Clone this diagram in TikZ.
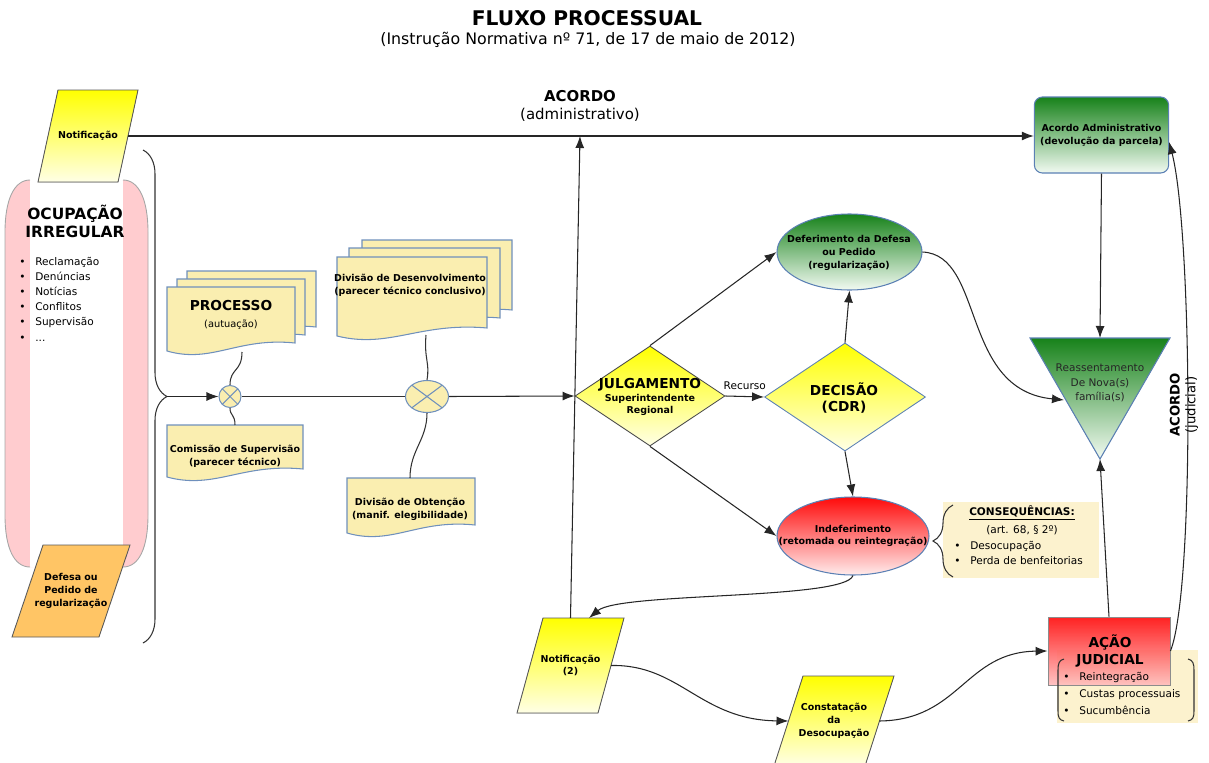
\documentclass[tikz,border=0pt]{standalone}
\usepackage{fontspec}
\setmainfont{DejaVu Sans}
\usetikzlibrary{arrows.meta,shapes.geometric,decorations.pathreplacing,positioning}

\definecolor{notifTop}{HTML}{FFFF00}
\definecolor{notifBot}{HTML}{FFFFE6}
\definecolor{docFill}{HTML}{FAEEB0}
\definecolor{docLine}{HTML}{6F90BC}
\definecolor{ocupPink}{HTML}{FFCCCF}
\definecolor{defOrange}{HTML}{FFC565}
\definecolor{greenTop}{HTML}{17821A}
\definecolor{greenBot}{HTML}{F2FAF2}
\definecolor{redTop}{HTML}{FF0A0A}
\definecolor{redBot}{HTML}{FFECEC}
\definecolor{noteFill}{HTML}{FCF2CE}
\definecolor{shapeLine}{HTML}{5B80B4}

\tikzset{
  flow/.style={-{Latex[length=2.4mm,width=1.8mm]}, line width=0.6pt, draw=black!85},
  link/.style={line width=0.6pt, draw=black!80},
  docbox/.style={fill=docFill, draw=docLine, line width=0.6pt},
  xjoin/.style={draw=docLine, fill=docFill, line width=0.6pt, inner sep=0pt,
    path picture={\draw[docLine, line width=0.6pt]
      (path picture bounding box.north west) -- (path picture bounding box.south east)
      (path picture bounding box.north east) -- (path picture bounding box.south west);}},
  lblsmall/.style={font=\fontsize{5.4}{7.3}\selectfont\bfseries, align=center},
  lblbig/.style={font=\fontsize{7.8}{9.4}\selectfont\bfseries, align=center},
  lbllist/.style={font=\fontsize{6}{8.6}\selectfont, align=left, inner sep=0pt},
}

\providecommand{\wavydoc}[4]{%
  \filldraw[docbox] (#1,#2) -- (#3,#2) -- (#3,{#4-12})
    .. controls ({#1+0.55*(#3-#1)},{#4-18}) and ({#1+0.35*(#3-#1)},{#4+9}) .. (#1,{#4-4}) -- cycle;
}
% name, cx, cy, half width, half height, slant, fill, text
\providecommand{\slantpaper}[8]{%
  \filldraw[#7, draw=black!65, line width=0.5pt]
    ({#2-#4},{#3+#5}) -- ({#2-#4+#6},{#3-#5}) -- ({#2+#4},{#3-#5}) -- ({#2+#4-#6},{#3+#5}) -- cycle;
  \node[lblsmall] (#1) at (#2,#3) {#8};
  \coordinate (#1-n) at (#2,{#3-#5});
  \coordinate (#1-e) at ({#2+#4-#6/2},#3);
  \coordinate (#1-w) at ({#2-#4+#6/2},#3);
}
\providecommand{\itm}[1]{\makebox[3.2mm][l]{\textbullet}#1}

\begin{document}
\begin{tikzpicture}[x=0.2mm, y=-0.2mm, font=\fontsize{6}{7.5}\selectfont]

  \useasboundingbox (0,0) rectangle (1209,763);

  % --------------------------------------------------------------------------
  % Title
  % --------------------------------------------------------------------------
  \node[font=\fontsize{11.5}{14}\selectfont\bfseries] (title) at (587,18) {FLUXO PROCESSUAL};
  \node[font=\fontsize{9}{11}\selectfont] (subtitle) at (588,40)
    {(Instrução Normativa nº 71, de 17 de maio de 2012)};

  % --------------------------------------------------------------------------
  % LEFT: ocupação irregular, notificação, defesa
  % --------------------------------------------------------------------------
  \fill[ocupPink] (30,180) .. controls (14,180) and (5,200) .. (5,232) -- (5,515)
    .. controls (5,548) and (14,567) .. (30,567) -- (123,567)
    .. controls (139,567) and (148,548) .. (148,515) -- (148,232)
    .. controls (148,200) and (139,180) .. (123,180) -- cycle;
  \fill[white] (30,180) rectangle (123,567);
  \draw[black!35, line width=0.5pt] (30,180) .. controls (14,180) and (5,200) .. (5,232)
    -- (5,515) .. controls (5,548) and (14,567) .. (30,567);
  \draw[black!35, line width=0.5pt] (123,180) .. controls (139,180) and (148,200) .. (148,232)
    -- (148,515) .. controls (148,548) and (139,567) .. (123,567);

  \node[font=\fontsize{8.8}{10.2}\selectfont\bfseries, align=center] (ocup) at (75,221)
    {OCUPAÇÃO\\IRREGULAR};
  \node[lbllist, anchor=north west] (ocuplist) at (19,257)
    {\itm{Reclamação}\\\itm{Denúncias}\\\itm{Notícias}\\\itm{Conflitos}\\\itm{Supervisão}\\\itm{...}};

  \slantpaper{notif}{88}{136}{50}{46}{20}{top color=notifTop, bottom color=notifBot}{Notificação}
  \slantpaper{defesa}{71}{591}{59}{46}{31}{fill=defOrange}{Defesa ou\\Pedido de\\regularização}

  \draw[link, decorate, decoration={brace, amplitude=4.8mm}] (143,150) -- (143,643);
  \coordinate (brtip) at (167,396.5);

  % --------------------------------------------------------------------------
  % Documents along the main line
  % --------------------------------------------------------------------------
  \wavydoc{187}{271}{316}{339}
  \wavydoc{177}{279}{305}{347}
  \wavydoc{167}{287}{295}{355}
  \node[font=\fontsize{7.8}{9.6}\selectfont\bfseries, align=center] (proc) at (231,315)
    {PROCESSO\\{\fontsize{5.6}{7}\selectfont\mdseries(autuação)}};
  \coordinate (procfoot) at (242,352);

  \wavydoc{167}{425}{303}{481}
  \node[lblsmall] (comis) at (235,456) {Comissão de Supervisão\\(parecer técnico)};
  \coordinate (comistop) at (235,425);

  \wavydoc{362}{240}{512}{322}
  \wavydoc{349}{248}{500}{330}
  \wavydoc{337}{257}{487}{340}
  \node[lblsmall] (desenv) at (410,285) {Divisão de Desenvolvimento\\(parecer técnico conclusivo)};
  \coordinate (desenvfoot) at (426,335);

  \wavydoc{347}{478}{475}{537}
  \node[lblsmall] (obt) at (410,509) {Divisão de Obtenção\\(manif. elegibilidade)};
  \coordinate (obttop) at (410,478);

  \node[xjoin, circle, minimum size=4.4mm] (circ1) at (230,396.5) {};
  \node[xjoin, ellipse, minimum width=8.6mm, minimum height=6.4mm] (circ2) at (427,396.5) {};

  % --------------------------------------------------------------------------
  % Judgement and decision
  % --------------------------------------------------------------------------
  \node[diamond, minimum width=30mm, minimum height=20mm, inner sep=0pt,
    top color=notifTop, bottom color=notifBot, draw=black!70, line width=0.5pt] (julg) at (650,396) {};
  \node[lblsmall] (julgtext) at (650,397)
    {{\fontsize{7.8}{9}\selectfont JULGAMENTO}\\Superintendente\\Regional};

  \node[diamond, minimum width=32.2mm, minimum height=21.6mm, inner sep=0pt,
    top color=notifTop, bottom color=notifBot, draw=shapeLine, line width=0.5pt] (dec) at (845,397) {};
  \node[lblbig] (dectext) at (844,398) {DECISÃO\\(CDR)};

  \node[ellipse, minimum width=29mm, minimum height=15.2mm, inner sep=0pt,
    top color=greenTop, bottom color=greenBot, draw=shapeLine, line width=0.6pt] (defer) at (849.5,252) {};
  \node[lblsmall] (defertext) at (849,253) {Deferimento da Defesa\\ou Pedido\\(regularização)};

  \node[ellipse, minimum width=30.4mm, minimum height=15.6mm, inner sep=0pt,
    top color=redTop, bottom color=redBot, draw=shapeLine, line width=0.6pt] (indef) at (853,536) {};
  \node[lblsmall] (indeftext) at (853,536) {Indeferimento\\(retomada ou reintegração)};

  % consequences note
  \fill[noteFill] (943,502) rectangle (1099,578);
  \draw[link, decorate, decoration={brace, amplitude=4mm}] (953,577) -- (953,505);
  \node[font=\fontsize{6}{7}\selectfont\bfseries] (conseqtitle) at (1022,513) {\underline{CONSEQUÊNCIAS:}};
  \node[font=\fontsize{6}{7}\selectfont] (conseqart) at (1022,530) {(art. 68, § 2º)};
  \node[lbllist, anchor=north west] (conseqlist) at (954,541) {\itm{Desocupação}\\\itm{Perda de benfeitorias}};

  % --------------------------------------------------------------------------
  % Bottom: notificação (2), constatação, ação judicial
  % --------------------------------------------------------------------------
  \slantpaper{notif2}{570.5}{665.5}{53.5}{47.5}{26}{top color=notifTop, bottom color=notifBot}{Notificação\\(2)}
  \coordinate (notif2in) at (589,618);

  \slantpaper{const}{834}{721}{60}{45}{29}{top color=notifTop, bottom color=notifBot}{Constatação\\da\\Desocupação}

  \fill[noteFill] (1057,650) rectangle (1198,723);
  \node[rectangle, minimum width=24.4mm, minimum height=13.6mm, inner sep=0pt,
    top color=redTop, bottom color=redBot!80!red, draw=black!45, line width=0.5pt,
    fill opacity=0.9] (acao) at (1109,651) {};
  \node[lblbig] (acaotext) at (1110,651) {AÇÃO\\JUDICIAL};
  \draw[link] (1064,659) .. controls (1059,660) and (1058,664) .. (1058,670) -- (1058,711)
    .. controls (1058,717) and (1059,720) .. (1064,721);
  \draw[link] (1188,659) .. controls (1193,660) and (1194,664) .. (1194,670) -- (1194,711)
    .. controls (1194,717) and (1193,720) .. (1188,721);
  \node[font=\fontsize{6}{9.6}\selectfont, align=left, inner sep=0pt, anchor=north west] (acaolist) at (1063,672)
    {\itm{Reintegração}\\\itm{Custas processuais}\\\itm{Sucumbência}};

  % --------------------------------------------------------------------------
  % RIGHT: acordo administrativo, reassentamento
  % --------------------------------------------------------------------------
  \node[rectangle, rounded corners=1.6mm, minimum width=26.2mm, minimum height=15.2mm,
    top color=greenTop, bottom color=greenBot, draw=shapeLine, line width=0.6pt, lblsmall] (acadm) at (1101.5,135)
    {Acordo Administrativo\\(devolução da parcela)};

  \filldraw[top color=greenTop, bottom color=greenBot, draw=shapeLine, line width=0.6pt]
    (1030,338) -- (1170,338) -- (1100,459) -- cycle;
  \coordinate (reassN) at (1100,338);
  \coordinate (reassS) at (1100,459);
  \coordinate (reassW) at (1064,400);
  \node[font=\fontsize{6}{8.3}\selectfont, align=center, text=black!85] (reass) at (1100,383)
    {Reassentamento\\De Nova(s)\\família(s)};

  % --------------------------------------------------------------------------
  % Connectors
  % --------------------------------------------------------------------------
  \draw[flow] (notif-e) -- (notif-e -| acadm.west);
  \node[font=\fontsize{8.5}{9.8}\selectfont, align=center] (acordoadm) at (580,106)
    {\textbf{ACORDO}\\(administrativo)};
  \coordinate (acjoin) at (580,136);
  \draw[flow] (notif2-n) -- (acjoin);

  \draw[flow] (brtip) -- (circ1.west);
  \draw[link] (circ1.east) -- (circ2.west);
  \draw[flow] (circ2.east) -- (julg.west);
  \draw[link] (procfoot) .. controls (242,372) and (230,368) .. (circ1.north);
  \draw[link] (circ1.south) .. controls (230,416) and (235,414) .. (comistop);
  \draw[link] (desenvfoot) .. controls (424,360) and (430,362) .. (circ2.north);
  \draw[link] (circ2.south) .. controls (427,440) and (410,450) .. (obttop);

  \draw[flow] (julg.east) -- node[above, font=\fontsize{6}{7}\selectfont] (recurso) {Recurso} (dec.west);
  \draw[flow] (julg.north) -- (defer.west);
  \draw[flow] (julg.south) -- (indef.west);
  \draw[flow] (dec.north) -- (defer.south);
  \draw[flow] (dec.south) -- (indef.north);
  \draw[flow] (defer.east) .. controls (985,255) and (960,390) .. (reassW);
  \draw[flow] (acadm.south) -- (reassN);
  \draw[flow] (acao.north) -- (reassS);

  \draw[flow] (indef.south) .. controls (845,600) and (620,592) .. (notif2in);
  \draw[flow] (notif2-e) .. controls (680,664) and (700,720) .. (const-w);
  \draw[flow] (const-e) .. controls (960,720) and (965,652) .. (acao.west);
  \draw[flow] (acao.east) .. controls (1195,590) and (1192,230) .. (acadm.-6);
  \node[rotate=90, font=\fontsize{7.5}{9}\selectfont, align=center] (acordojud) at (1184,405)
    {\textbf{ACORDO}\\(judicial)};

\end{tikzpicture}
\end{document}
